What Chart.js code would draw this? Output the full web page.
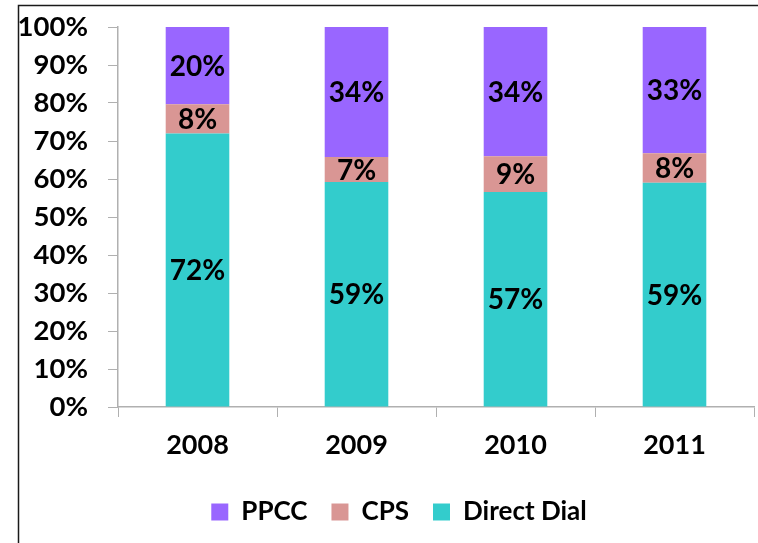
<!DOCTYPE html>
<html><head><meta charset="utf-8">
<script src="https://cdn.jsdelivr.net/npm/chart.js@4"></script>
<style>html,body{margin:0;padding:0;background:#fff;}#wrap{position:relative;width:758px;height:543px;}</style>
</head><body><div id="wrap"><canvas id="c" width="758" height="543"></canvas></div>
<script>
const categories = ['2008', '2009', '2010', '2011'];
const directDial = [72.0, 59.2, 56.6, 59.0];
const cps = [7.7, 6.6, 9.4, 7.8];
const ppcc = [20.3, 34.2, 34.0, 33.2];
const yTicks = [0, 10, 20, 30, 40, 50, 60, 70, 80, 90, 100];

const FONT = 'Lato, "Open Sans", sans-serif';

const framePlugin = {
  id: 'frame',
  beforeDraw(chart) {
    const ctx = chart.ctx;
    ctx.save();
    ctx.fillStyle = '#fff';
    ctx.fillRect(0, 0, chart.width, chart.height);
    ctx.strokeStyle = '#1a1a1a';
    ctx.lineWidth = 1.5;
    ctx.beginPath();
    ctx.moveTo(18.5, chart.height);
    ctx.lineTo(18.5, 5.5);
    ctx.lineTo(chart.width, 5.5);
    ctx.stroke();
    ctx.restore();
  }
};

const legendShift = {
  id: 'legendShift',
  afterLayout(chart) {
    const l = chart.legend;
    if (l) { l.left += 22; l.right += 22; }
  }
};

const labelPlugin = {
  id: 'barLabels',
  afterDatasetsDraw(chart) {
    const ctx = chart.ctx;
    ctx.save();
    ctx.font = 'bold 28px ' + FONT;
    ctx.fillStyle = '#000';
    ctx.textAlign = 'center';
    ctx.textBaseline = 'middle';
    chart.data.datasets.forEach((ds, i) => {
      const meta = chart.getDatasetMeta(i);
      meta.data.forEach((el, j) => {
        const p = el.getCenterPoint();
        ctx.fillText(Math.round(ds.data[j]) + '%', p.x, p.y + 1);
      });
    });
    ctx.restore();
  }
};

new Chart(document.getElementById('c'), {
  type: 'bar',
  data: {
    labels: categories,
    datasets: [
      { label: 'Direct Dial', data: directDial, backgroundColor: '#33CCCC', borderWidth: 0 },
      { label: 'CPS', data: cps, backgroundColor: '#D99694', borderWidth: 0 },
      { label: 'PPCC', data: ppcc, backgroundColor: '#9966FF', borderWidth: 0 }
    ]
  },
  options: {
    responsive: false,
    animation: false,
    layout: { padding: { top: 27, right: 4, bottom: 8, left: 0 } },
    datasets: { bar: { categoryPercentage: 1, barPercentage: 0.4 } },
    scales: {
      x: {
        stacked: true,
        grid: { drawOnChartArea: false, drawTicks: true, tickLength: 10, color: '#b0b0b0', offset: true },
        border: { display: true, color: '#b0b0b0', width: 1.5 },
        ticks: { color: '#000', font: { family: FONT, size: 27, weight: 'bold' }, padding: 12 },
        afterFit(s) { s.height = 68; }
      },
      y: {
        stacked: true,
        min: 0, max: 100,
        afterBuildTicks(s) { s.ticks = yTicks.map(v => ({ value: v })); },
        grid: { drawOnChartArea: false, drawTicks: true, tickLength: 10, color: '#b0b0b0' },
        border: { display: true, color: '#b0b0b0', width: 1.5 },
        ticks: { color: '#000', font: { family: FONT, size: 27.5, weight: 'bold' }, padding: 20, callback: v => v + '%' },
        afterFit(s) { s.width = 118; s.paddingTop = 0; s.paddingBottom = 0; }
      }
    },
    plugins: {
      legend: {
        position: 'bottom',
        reverse: true,
        labels: { color: '#000', font: { family: FONT, size: 26, weight: 'bold' }, boxWidth: 17, boxHeight: 17, padding: 24 }
      },
      tooltip: { enabled: false }
    }
  },
  plugins: [framePlugin, legendShift, labelPlugin]
});
</script></body></html>
